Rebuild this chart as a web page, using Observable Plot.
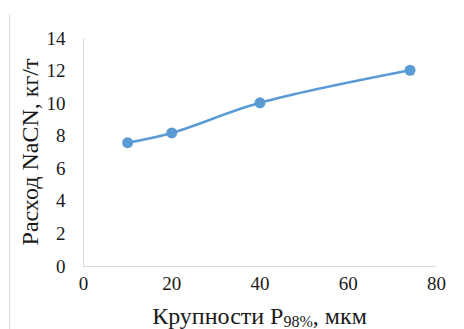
<!DOCTYPE html>
<html>
<head>
<meta charset="utf-8">
<script src="https://cdn.jsdelivr.net/npm/d3@7"></script>
<script src="https://cdn.jsdelivr.net/npm/@observablehq/plot@0.6"></script>
<style>
  html, body { margin: 0; padding: 0; background: #fff; }
  #wrap { position: relative; width: 464px; height: 329px; overflow: hidden; }
  #frame { position: absolute; left: 9px; top: 15px; height: 320px; border-left: 1px solid #d9d9d9; }
</style>
</head>
<body>
<div id="wrap"><div id="frame"></div></div>
<script>
const sizes = [10, 20, 40, 74];
const consumption = [7.6, 8.2, 10.05, 12.05];
const xTicks = [0, 20, 40, 60, 80];
const yTicks = [0, 2, 4, 6, 8, 10, 12, 14];
const yTitle = "Расход NaCN, кг/т";
const xTitleMain = "Крупности P";
const xTitleSub = "98%";
const xTitleEnd = ", мкм";

const data = sizes.map((s, i) => ({x: s, y: consumption[i]}));
const color = "#5B9BD5";
const serif = "Liberation Serif";

const chart = Plot.plot({
  width: 464,
  height: 329,
  marginLeft: 83,
  marginRight: 28,
  marginTop: 38,
  marginBottom: 63,
  style: {fontFamily: serif, fontSize: "18px", color: "#1a1a1a", background: "transparent", overflow: "visible"},
  x: {domain: [0, 80], ticks: xTicks, label: null},
  y: {domain: [0, 14], ticks: yTicks, label: null},
  marks: [
    Plot.axisX({ticks: xTicks, tickSize: 0, tickPadding: 10, label: null, fontSize: 19}),
    Plot.axisY({ticks: yTicks, tickSize: 0, tickPadding: 18, label: null, fontSize: 19}),
    Plot.ruleY([0], {stroke: "#d9d9d9", strokeWidth: 1, strokeOpacity: 1}),
    Plot.ruleX([0], {stroke: "#d9d9d9", strokeWidth: 1, strokeOpacity: 1}),
    Plot.line(data, {x: "x", y: "y", stroke: color, strokeWidth: 2.5, curve: "catmull-rom"}),
    Plot.dot(data, {x: "x", y: "y", fill: color, r: 5.5})
  ]
});

document.getElementById("wrap").appendChild(chart);

const svg = d3.select(chart);
const xs = chart.scale("x");
const ys = chart.scale("y");
const cx = (xs.apply(80) + xs.apply(0)) / 2;
const cy = (ys.apply(0) + ys.apply(14)) / 2;

const xt = svg.append("text")
  .attr("x", cx)
  .attr("y", 324)
  .attr("text-anchor", "middle")
  .attr("fill", "#1a1a1a")
  .style("font-size", "24px");
xt.append("tspan").text(xTitleMain);
xt.append("tspan").attr("dy", 3).style("font-size", "16px").text(xTitleSub);
xt.append("tspan").attr("dy", -3).text(xTitleEnd);

svg.append("text")
  .attr("transform", `translate(38,${cy}) rotate(-90)`)
  .attr("text-anchor", "middle")
  .attr("fill", "#1a1a1a")
  .style("font-size", "24px")
  .text(yTitle);

svg.selectAll("g, text, tspan")
  .attr("font-family", serif)
  .style("font-family", serif);
</script>
</body>
</html>
